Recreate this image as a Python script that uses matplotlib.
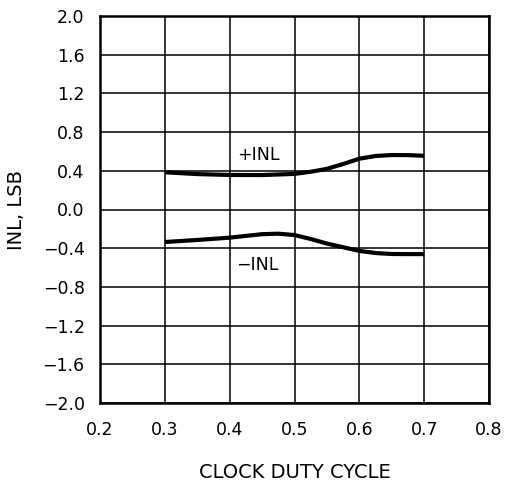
import matplotlib
matplotlib.use("Agg")
import matplotlib.pyplot as plt

# INL versus clock duty cycle
pos_x = [0.30, 0.35, 0.40, 0.45, 0.50, 0.525, 0.55, 0.575, 0.60, 0.625, 0.65, 0.675, 0.70]
pos_inl = [0.385, 0.366, 0.357, 0.356, 0.368, 0.39, 0.42, 0.47, 0.525, 0.553, 0.563, 0.562, 0.555]

neg_x = [0.30, 0.35, 0.40, 0.45, 0.475, 0.50, 0.525, 0.55, 0.575, 0.60, 0.625, 0.65, 0.675, 0.70]
neg_inl = [-0.336, -0.315, -0.291, -0.255, -0.25, -0.264, -0.305, -0.352, -0.39, -0.428, -0.45, -0.46, -0.461, -0.461]

x_ticks = [0.2, 0.3, 0.4, 0.5, 0.6, 0.7, 0.8]
y_ticks = [-2.0, -1.6, -1.2, -0.8, -0.4, 0.0, 0.4, 0.8, 1.2, 1.6, 2.0]

plt.rcParams['font.family'] = ['DejaVu Sans']

fig = plt.figure(figsize=(5.05, 4.87), dpi=100)
W, H = 505, 487
ax = fig.add_axes([100 / W, 1 - 403 / H, 389 / W, 387 / H])

ax.plot(pos_x, pos_inl, color='black', lw=3.0, solid_capstyle='butt', zorder=3)
ax.plot(neg_x, neg_inl, color='black', lw=3.0, solid_capstyle='butt', zorder=3)

ax.text(0.444, 0.563, '+INL', ha='center', va='center', fontsize=12.5)
ax.text(0.442, -0.574, '\u2212INL', ha='center', va='center', fontsize=12.5)

ax.set_xlim(0.2, 0.8)
ax.set_ylim(-2.0, 2.0)
ax.set_xticks(x_ticks)
ax.set_yticks(y_ticks)
ax.set_xticklabels([f"{v:.1f}" for v in x_ticks])
ax.set_yticklabels([f"{v:.1f}".replace('-', '\u2212') for v in y_ticks])
ax.tick_params(length=0, labelsize=12.5)
ax.tick_params(axis='x', pad=13)
ax.tick_params(axis='y', pad=11)

ax.grid(True, color='black', lw=1.1)
ax.set_axisbelow(True)
for s in ax.spines.values():
    s.set_linewidth(1.8)

ax.set_xlabel('CLOCK DUTY CYCLE', fontsize=14, labelpad=17)
ax.set_ylabel('INL, LSB', fontsize=14, labelpad=12)

fig.savefig('out.png', dpi=100)
